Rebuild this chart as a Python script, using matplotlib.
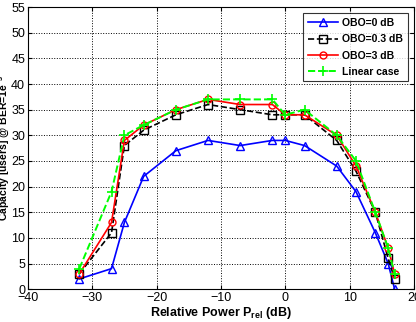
import matplotlib
matplotlib.use("Agg")
import matplotlib.pyplot as plt
from matplotlib import font_manager

names = {f.name for f in font_manager.fontManager.ttflist}
fam = 'Liberation Sans Narrow' if 'Liberation Sans Narrow' in names else 'Liberation Sans'
plt.rcParams['font.family'] = [fam, 'DejaVu Sans']
plt.rcParams['mathtext.fontset'] = 'custom'
plt.rcParams['mathtext.rm'] = fam
plt.rcParams['mathtext.bf'] = fam + ':bold'

x = [-32, -27, -25, -22, -17, -12, -7, -2, 0, 3, 8, 11, 14, 16, 17]
obo0 = [2, 4, 13, 22, 27, 29, 28, 29, 29, 28, 24, 19, 11, 5, 0]
obo03 = [3, 11, 28, 31, 34, 36, 35, 34, 34, 34, 29, 23, 15, 6, 2]
obo3 = [3, 13, 29, 32, 35, 37, 36, 36, 34, 34, 30, 24, 15, 8, 3]
linear = [4, 19, 30, 32, 35, 37, 37, 37, 34, 35, 30, 25, 15, 8, 3]

xticks = [-40, -30, -20, -10, 0, 10, 20]
yticks = list(range(0, 56, 5))

fig = plt.figure(figsize=(4.16, 3.22), dpi=100)
ax = fig.add_axes([0.067, 0.102, 0.928, 0.876])

ax.plot(x, obo0, '-^', color='#0000ff', lw=1.2, ms=6, mfc='none', mew=1.0, label='OBO=0 dB')
ax.plot(x, obo03, '--s', color='black', lw=1.2, ms=6, mfc='none', mew=1.0, label='OBO=0.3 dB')
ax.plot(x, obo3, '-o', color='#ff0000', lw=1.2, ms=5, mfc='none', mew=1.0, label='OBO=3 dB')
ax.plot(x, linear, '--+', color='#00ff00', lw=1.4, ms=7, mew=1.2, label='Linear case')

ax.set_xlim(-40, 20)
ax.set_ylim(0, 55)
ax.set_xticks(xticks)
ax.set_yticks(yticks)
ax.tick_params(direction='in', labelsize=9, length=3, top=True, right=True, pad=2)
ax.grid(True, linestyle=':', color='black', lw=0.7)
ax.set_xlabel(r'Relative Power P$_{\mathbf{rel}}$ (dB)', fontsize=9, fontweight='bold', labelpad=1)
ax.set_ylabel(r'Capacity [users] @ BER=1e$^{\mathbf{-3}}$', fontsize=7.5, fontweight='bold')
ax.yaxis.set_label_coords(-0.042, 0.5)

leg = ax.legend(loc='upper right', frameon=True, fancybox=False,
                edgecolor='black', handlelength=2.9, borderaxespad=0.6, labelspacing=0.6,
                handletextpad=0.4, borderpad=0.45, prop={'weight': 'bold', 'size': 7.5})
leg.get_frame().set_linewidth(0.8)

fig.savefig('out.png', dpi=100)
